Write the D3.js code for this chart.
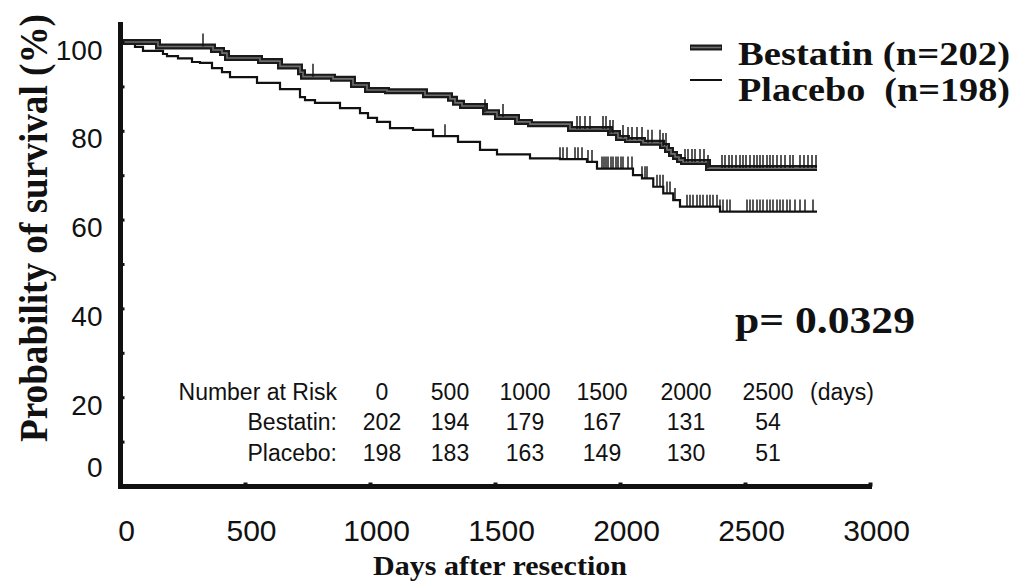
<!DOCTYPE html>
<html>
<head>
<meta charset="utf-8">
<script src="https://cdn.jsdelivr.net/npm/d3@7"></script>
<style>
  html, body { margin: 0; padding: 0; background: #fff; }
  svg { display: block; }
</style>
</head>
<body>
<svg id="chart" width="1028" height="583"></svg>
<script>
// ---------- data ----------
const bestatinDays = [0,152,372,408,428,560,640,720,732,852,932,988,1068,1220,1320,1340,1368,1460,1508,1588,1640,1800,1960,1992,2028,2092,2168,2188,2204,2220,2236,2252,2352];
const bestatinSurv = [100,99.0,98.2,97.5,96.4,95.7,94.5,93.2,92.2,91.7,90.3,89.2,88.9,88.0,87.2,86.3,85.6,84.2,83.1,82.0,81.5,80.4,79.5,78.4,77.9,77.3,76.6,75.7,74.8,74.1,73.4,73.0,71.6];
const placeboDays = [0,60,92,172,188,232,288,320,368,408,440,548,640,720,740,780,880,960,992,1028,1080,1172,1252,1352,1440,1508,1640,1760,1868,1908,2052,2088,2133,2173,2213,2240,2400];
const placeboSurv = [100,98.9,98.0,97.3,96.8,96.3,95.5,95.3,94.1,93.2,92.1,90.8,89.4,87.6,86.9,86.3,85.1,84.0,82.9,82.0,80.6,80.2,78.8,77.5,75.7,74.7,73.8,73.6,73.0,71.5,70.0,69.3,67.4,65.9,64.4,62.9,61.8];
const followUpEnd = 2788;
const bestatinCensor = [332,772,1460,1532,1828,1840,1860,1880,1932,1944,1960,1972,2012,2032,2048,2068,2088,2112,2128,2160,2172,2184,2260,2272,2288,2300,2320,2336,2352,2408,2420,2436,2448,2464,2480,2492,2504,2520,2536,2548,2560,2572,2588,2600,2612,2628,2644,2660,2680,2692,2720,2736,2752,2768,2784];
const placeboCensor = [1300,1760,1772,1788,1820,1832,1848,1872,1888,1928,1936,1944,1952,1964,1972,1984,1992,2004,2012,2032,2048,2088,2100,2108,2148,2160,2172,2188,2200,2220,2268,2280,2292,2308,2320,2332,2348,2360,2372,2388,2400,2412,2428,2440,2508,2520,2532,2548,2560,2572,2588,2600,2612,2628,2640,2652,2668,2680,2700,2720,2740,2772];

const xTicks = [0,500,1000,1500,2000,2500,3000];
const yTicks = [0,10,20,30,40,50,60,70,80,90,100];
const yLabels = [0,20,40,60,80,100];

const riskTimes = [0,500,1000,1500,2000,2500];
const bestatinRisk = [202,194,179,167,131,54];
const placeboRisk = [198,183,163,149,130,51];
const riskRowLabels = ["Number at Risk", "Bestatin:", "Placebo:"];
const riskUnit = "(days)";

const legendLabels = ["Bestatin (n=202)", "Placebo  (n=198)"];
const pValueText = "p= 0.0329";
const yTitle = "Probability of survival (%)";
const xTitle = "Days after resection";

// ---------- drawing ----------
const svg = d3.select("#chart");
const x = d3.scaleLinear().domain([0, 3000]).range([120, 870]);
const y = d3.scaleLinear().domain([0, 100]).range([486, 42]);

const serif = "'Liberation Serif','Times New Roman',Times,serif";
const sans = "'Liberation Sans',Arial,Helvetica,sans-serif";

function toPoints(days, surv) {
  const pts = days.map((d, i) => [d, surv[i]]);
  pts.push([followUpEnd, surv[surv.length - 1]]);
  return pts;
}
const line = d3.line().x(d => x(d[0])).y(d => y(d[1])).curve(d3.curveStepAfter);
const bPts = toPoints(bestatinDays, bestatinSurv);
const pPts = toPoints(placeboDays, placeboSurv);

function stepValue(days, surv, t) {
  const i = d3.bisectRight(days, t) - 1;
  return surv[Math.max(0, i)];
}

// placebo curve
svg.append("path").attr("d", line(pPts)).attr("fill", "none")
  .attr("stroke", "#111").attr("stroke-width", 2.2);

// bestatin curve (thick band with lighter core)
svg.append("path").attr("d", line(bPts)).attr("fill", "none")
  .attr("stroke", "#1a1a1a").attr("stroke-width", 6);
svg.append("path").attr("d", line(bPts)).attr("fill", "none")
  .attr("stroke", "#6e6e6e").attr("stroke-width", 1.6);

// censor marks
svg.append("g").selectAll("line").data(placeboCensor).join("line")
  .attr("x1", d => x(d)).attr("x2", d => x(d))
  .attr("y1", d => y(stepValue(placeboDays, placeboSurv, d)))
  .attr("y2", d => y(stepValue(placeboDays, placeboSurv, d)) - 12)
  .attr("stroke", "#111").attr("stroke-width", 1.4);
svg.append("g").selectAll("line").data(bestatinCensor).join("line")
  .attr("x1", d => x(d)).attr("x2", d => x(d))
  .attr("y1", d => y(stepValue(bestatinDays, bestatinSurv, d)))
  .attr("y2", d => y(stepValue(bestatinDays, bestatinSurv, d)) - 13)
  .attr("stroke", "#111").attr("stroke-width", 1.4);

// y axis
const yAxis = d3.axisLeft(y).tickValues(yTicks).tickSize(-4).tickPadding(18)
  .tickFormat(d => yLabels.includes(d) ? String(d) : "");
const gy = svg.append("g").attr("transform", "translate(120.5,0)").call(yAxis);
gy.select(".domain").remove();
gy.selectAll(".tick line").attr("stroke", "#111").attr("stroke-width", 3);
gy.selectAll(".tick text")
  .attr("font-family", sans).attr("font-size", 28).attr("fill", "#111")
  .attr("dy", d => d === 0 ? "-10px" : "17px");
svg.append("line").attr("x1", 120.5).attr("x2", 120.5)
  .attr("y1", y(104.5)).attr("y2", y(0) + 3)
  .attr("stroke", "#111").attr("stroke-width", 5);

// x axis
const xAxis = d3.axisBottom(x).tickValues(xTicks).tickSize(-4).tickPadding(33)
  .tickFormat(d3.format("d"));
const gx = svg.append("g").attr("transform", "translate(0,486.5)").call(xAxis);
gx.select(".domain").remove();
gx.selectAll(".tick line").attr("stroke", "#111").attr("stroke-width", 4);
gx.selectAll(".tick text")
  .attr("font-family", sans).attr("font-size", 30).attr("fill", "#111")
  .attr("dx", "6px");
svg.append("line").attr("x1", x(-8)).attr("x2", x(3008))
  .attr("y1", 486.5).attr("y2", 486.5)
  .attr("stroke", "#111").attr("stroke-width", 5);

// axis titles
svg.append("text").attr("transform", "translate(47,228) rotate(-90)")
  .attr("text-anchor", "middle").attr("font-family", serif).attr("font-weight", "bold")
  .attr("font-size", 40).attr("textLength", 428).attr("lengthAdjust", "spacingAndGlyphs")
  .attr("fill", "#111").text(yTitle);
svg.append("text").attr("x", 500).attr("y", 575)
  .attr("text-anchor", "middle").attr("font-family", serif).attr("font-weight", "bold")
  .attr("font-size", 28).attr("textLength", 254).attr("lengthAdjust", "spacingAndGlyphs")
  .attr("fill", "#111").text(xTitle);

// legend
const lg = svg.append("g");
lg.append("line").attr("x1", 690).attr("x2", 722).attr("y1", 47.5).attr("y2", 47.5)
  .attr("stroke", "#1a1a1a").attr("stroke-width", 6);
lg.append("line").attr("x1", 691).attr("x2", 721).attr("y1", 47.5).attr("y2", 47.5)
  .attr("stroke", "#6e6e6e").attr("stroke-width", 1.6);
lg.append("line").attr("x1", 690).attr("x2", 722).attr("y1", 80).attr("y2", 80)
  .attr("stroke", "#111").attr("stroke-width", 2);
lg.selectAll("text").data(legendLabels).join("text")
  .attr("x", 738).attr("y", (d, i) => 65 + i * 36)
  .attr("font-family", serif).attr("font-weight", "bold").attr("font-size", 33)
  .attr("textLength", 272).attr("lengthAdjust", "spacingAndGlyphs")
  .style("white-space", "pre")
  .attr("fill", "#111").text(d => d);

// p value
svg.append("text").attr("x", 735).attr("y", 333)
  .attr("font-family", serif).attr("font-weight", "bold").attr("font-size", 37)
  .attr("textLength", 180).attr("lengthAdjust", "spacingAndGlyphs")
  .attr("fill", "#111").text(pValueText);

// number at risk table
const col = d3.scaleLinear().domain([0, 500, 1000, 1500, 2000, 2500, 3000])
  .range([382, 450, 525, 602, 686, 768, 842]);
const tg = svg.append("g").attr("font-family", sans).attr("font-size", 23).attr("fill", "#111");
const rowY = [400, 430, 461];
tg.selectAll(".lab").data(riskRowLabels).join("text").attr("class", "lab")
  .attr("x", 337).attr("y", (d, i) => rowY[i]).attr("text-anchor", "end").text(d => d);
tg.selectAll(".h").data(riskTimes).join("text").attr("class", "h")
  .attr("x", d => col(d)).attr("y", rowY[0]).attr("text-anchor", "middle").text(d => d);
tg.append("text").attr("x", col(3000)).attr("y", rowY[0]).attr("text-anchor", "middle").text(riskUnit);
tg.selectAll(".b").data(bestatinRisk).join("text").attr("class", "b")
  .attr("x", (d, i) => col(riskTimes[i])).attr("y", rowY[1]).attr("text-anchor", "middle").text(d => d);
tg.selectAll(".p").data(placeboRisk).join("text").attr("class", "p")
  .attr("x", (d, i) => col(riskTimes[i])).attr("y", rowY[2]).attr("text-anchor", "middle").text(d => d);
</script>
</body>
</html>
